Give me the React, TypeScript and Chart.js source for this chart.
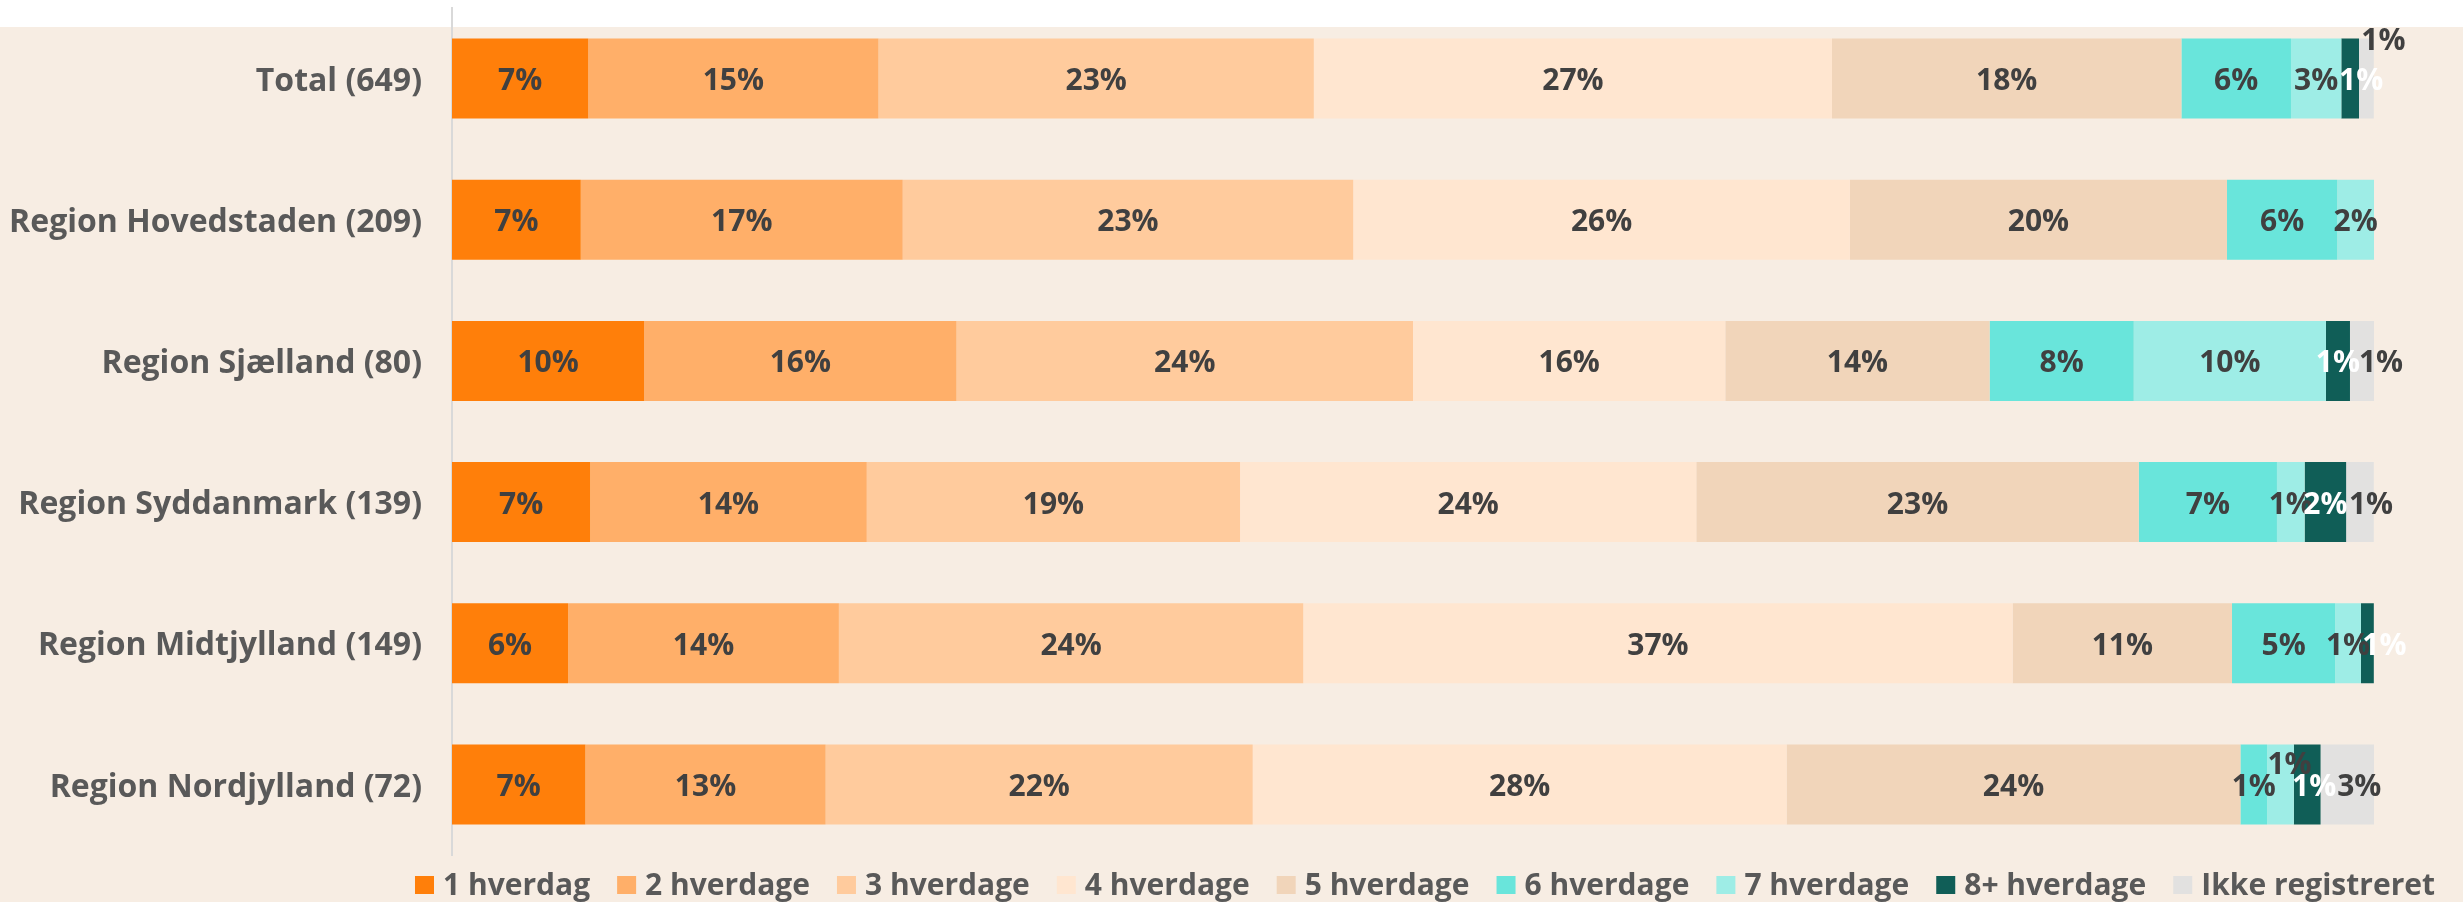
import React, { useEffect, useRef } from "react";
import { Chart, registerables } from "chart.js";

Chart.register(...registerables);

const categories = [
  "Total (649)",
  "Region Hovedstaden (209)",
  "Region Sjælland (80)",
  "Region Syddanmark (139)",
  "Region Midtjylland (149)",
  "Region Nordjylland (72)",
];

const seriesNames = [
  "1 hverdag",
  "2 hverdage",
  "3 hverdage",
  "4 hverdage",
  "5 hverdage",
  "6 hverdage",
  "7 hverdage",
  "8+ hverdage",
  "Ikke registreret",
];

// percentages per category (rows as listed in categories)
const hverdag1 = [7.09, 6.7, 10.0, 7.19, 6.04, 6.94];
const hverdage2 = [15.1, 16.75, 16.25, 14.39, 14.09, 12.5];
const hverdage3 = [22.65, 23.44, 23.75, 19.42, 24.16, 22.22];
const hverdage4 = [26.96, 25.84, 16.25, 23.74, 36.91, 27.78];
const hverdage5 = [18.18, 19.62, 13.75, 23.02, 11.41, 23.61];
const hverdage6 = [5.7, 5.74, 7.5, 7.19, 5.37, 1.39];
const hverdage7 = [2.62, 1.91, 10.0, 1.44, 1.34, 1.39];
const hverdage8 = [0.92, 0, 1.25, 2.16, 0.67, 1.39];
const ikkeRegistreret = [0.77, 0, 1.25, 1.44, 0, 2.78];

const seriesValues = [
  hverdag1,
  hverdage2,
  hverdage3,
  hverdage4,
  hverdage5,
  hverdage6,
  hverdage7,
  hverdage8,
  ikkeRegistreret,
];

const seriesColors = [
  "#FF7F0A",
  "#FFAF69",
  "#FFCB9D",
  "#FFE6D0",
  "#F1D5BA",
  "#69E5DB",
  "#9EEDE6",
  "#105E57",
  "#E2E1E0",
];

const labelColors = [
  "#404040",
  "#404040",
  "#404040",
  "#404040",
  "#404040",
  "#404040",
  "#404040",
  "#FFFFFF",
  "#404040",
];

// manual label nudges (row-series -> [dx, dy]) as in the original
const labelNudges: Record<string, [number, number]> = {
  "0-7": [11, 0],
  "0-8": [17, -40],
  "2-8": [19, 0],
  "3-8": [11, 0],
  "4-7": [17, 0],
  "5-6": [9, -22],
  "5-7": [7, 0],
  "5-8": [12, 0],
};

const FONT = '"Open Sans", "DejaVu Sans", sans-serif';

const dataLabelPlugin = {
  id: "dataLabels",
  afterDatasetsDraw(chart: any) {
    const ctx = chart.ctx;
    ctx.save();
    ctx.font = `bold 30px ${FONT}`;
    ctx.textAlign = "center";
    ctx.textBaseline = "middle";
    chart.data.datasets.forEach((ds: any, i: number) => {
      const meta = chart.getDatasetMeta(i);
      meta.data.forEach((bar: any, j: number) => {
        const v = ds.data[j];
        if (!v) return;
        const p = bar.getProps(["x", "y", "base"], true);
        const nudge = labelNudges[`${j}-${i}`] || [0, 0];
        ctx.fillStyle = labelColors[i];
        ctx.fillText(
          `${Math.round(v)}%`,
          (p.x + p.base) / 2 + nudge[0],
          p.y + 3 + nudge[1]
        );
      });
    });
    ctx.restore();
  },
};

const legendPlugin = {
  id: "customLegend",
  afterDraw(chart: any) {
    const ctx = chart.ctx;
    const area = chart.chartArea;
    ctx.save();
    ctx.font = `bold 30px ${FONT}`;
    ctx.textBaseline = "middle";
    ctx.textAlign = "left";
    const boxW = 19;
    const boxH = 18;
    const textGap = 9;
    const itemGap = 27;
    const widths = seriesNames.map(
      (n) => boxW + textGap + ctx.measureText(n).width
    );
    const total =
      widths.reduce((a, b) => a + b, 0) + itemGap * (seriesNames.length - 1);
    const centerX = (area.left + area.right) / 2 + 12;
    let x = centerX - total / 2;
    const yc = 885;
    seriesNames.forEach((n, i) => {
      ctx.fillStyle = seriesColors[i];
      ctx.fillRect(x, yc - boxH / 2, boxW, boxH);
      ctx.fillStyle = "#595959";
      ctx.fillText(n, x + boxW + textGap, yc + 1);
      x += widths[i] + itemGap;
    });
    ctx.restore();
  },
};

export default function App() {
  const canvasRef = useRef<HTMLCanvasElement | null>(null);

  useEffect(() => {
    document.body.style.margin = "0";
    const canvas = canvasRef.current;
    if (!canvas) return;
    const chart = new Chart(canvas, {
      type: "bar",
      data: {
        labels: categories,
        datasets: seriesNames.map((name, i) => ({
          label: name,
          data: seriesValues[i],
          backgroundColor: seriesColors[i],
          borderWidth: 0,
          barPercentage: 0.567,
          categoryPercentage: 1,
        })),
      },
      options: {
        indexAxis: "y",
        responsive: false,
        maintainAspectRatio: false,
        animation: false,
        devicePixelRatio: 1,
        layout: { padding: { top: 8, right: 89, bottom: 47, left: 0 } },
        plugins: {
          legend: { display: false },
          tooltip: { enabled: false },
        },
        scales: {
          x: { stacked: true, min: 0, max: 100, display: false },
          y: {
            stacked: true,
            grid: { display: false, drawTicks: false },
            border: { display: true, color: "#D9D9D9", width: 2 },
            ticks: {
              color: "#595959",
              font: { family: FONT, size: 32, weight: "bold" },
              padding: 30,
              labelOffset: 3,
            },
            afterFit: (scale: any) => {
              scale.width = 452;
              scale.paddingTop = 0;
              scale.paddingBottom = 0;
            },
          },
        },
      },
      plugins: [dataLabelPlugin, legendPlugin],
    } as any);
    return () => chart.destroy();
  }, []);

  return (
    <div
      style={{
        position: "relative",
        width: 2463,
        height: 902,
        background: "#FFFFFF",
        overflow: "hidden",
      }}
    >
      <div
        style={{
          position: "absolute",
          left: 0,
          right: 0,
          top: 27,
          bottom: 0,
          background: "#F7EDE3",
        }}
      />
      <canvas
        ref={canvasRef}
        width={2463}
        height={902}
        style={{ position: "absolute", left: 0, top: 0, width: 2463, height: 902 }}
      />
    </div>
  );
}
